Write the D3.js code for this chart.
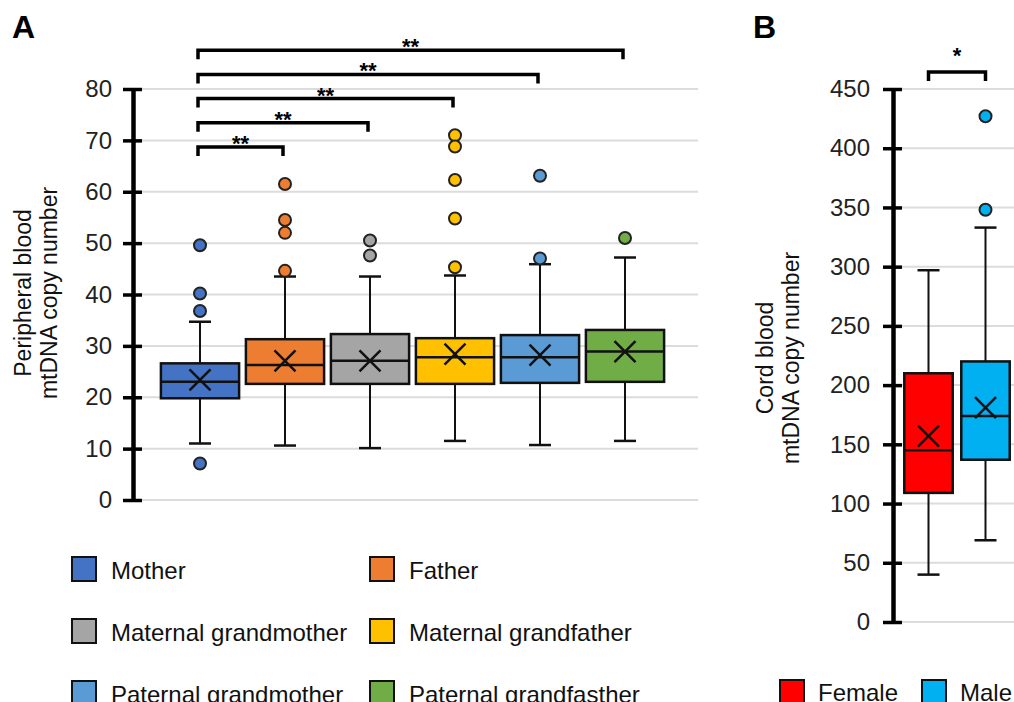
<!DOCTYPE html>
<html>
<head>
<meta charset="utf-8">
<script src="https://cdn.jsdelivr.net/npm/d3@7"></script>
<style>
  body { margin: 0; background: #fff; }
  text { font-family: "Liberation Sans", Arial, sans-serif; }
</style>
</head>
<body>
<div id="chart"></div>
<script>
// Panel A data (peripheral blood)
var groups       = ['Mother', 'Father', 'Maternal grandmother', 'Maternal grandfather', 'Paternal grandmother', 'Paternal grandfasther'];
var group_colors = ['#4472C4', '#ED7D31', '#A5A5A5', '#FFC000', '#5B9BD5', '#70AD47'];
var whisker_low  = [11.0, 10.6, 10.1, 11.5, 10.7, 11.5];
var q1           = [19.8, 22.6, 22.6, 22.6, 22.8, 23.0];
var median       = [23.0, 26.3, 27.1, 27.8, 27.8, 28.9];
var q3           = [26.6, 31.3, 32.3, 31.5, 32.1, 33.1];
var whisker_high = [34.7, 43.5, 43.5, 43.7, 45.9, 47.2];
var mean         = [23.4, 27.1, 27.1, 28.4, 28.2, 28.9];
var outliers     = [
	[49.6, 40.2, 36.8, 7.1],
	[61.5, 54.5, 52.0, 44.6],
	[50.5, 47.6],
	[71.0, 68.8, 62.3, 54.8, 45.3],
	[63.1, 47.0],
	[51.0]
];
var a_ticks      = [0, 10, 20, 30, 40, 50, 60, 70, 80];
// comparisons with Mother
var a_pairs      = [[0, 1], [0, 2], [0, 3], [0, 4], [0, 5]];
var a_signif     = ['**', '**', '**', '**', '**'];

// Panel B data (cord blood)
var sexes        = ['Female', 'Male'];
var sex_colors   = ['#FF0000', '#00B0F0'];
var b_whisker_low  = [40, 69];
var b_q1           = [109, 137];
var b_median       = [145, 174];
var b_q3           = [210, 220];
var b_whisker_high = [297, 333];
var b_mean         = [157, 181];
var b_outliers     = [[], [427, 348]];
var b_ticks      = [0, 50, 100, 150, 200, 250, 300, 350, 400, 450];
var b_signif     = '*';

var width  = 1014;
var height = 702;

var svg = d3.select('#chart')
	.append('svg')
	.attr('width', width)
	.attr('height', height);

// generic box plot panel
function drawPanel(opt) {
	var g = svg.append('g');

	// grid
	g.selectAll('.grid')
		.data(opt.ticks)
		.enter()
		.append('line')
		.attr('x1', opt.axisX)
		.attr('x2', opt.gridEnd)
		.attr('y1', function(d){ return opt.y(d); })
		.attr('y2', function(d){ return opt.y(d); })
		.attr('stroke', '#dcdcdc')
		.attr('stroke-width', 2);

	// axis
	var axis = d3.axisLeft(opt.y)
		.tickValues(opt.ticks)
		.tickSizeInner(9)
		.tickSizeOuter(0)
		.tickPadding(opt.pad);
	var ax = g.append('g')
		.attr('transform', 'translate(' + opt.axisX + ',0)')
		.call(axis);
	ax.select('.domain').attr('stroke', '#000').attr('stroke-width', 4.5);
	ax.selectAll('.tick line').attr('x1', -10).attr('x2', 9).attr('stroke', '#000').attr('stroke-width', 3.5);
	ax.selectAll('.tick text')
		.attr('font-size', 24)
		.attr('fill', '#222')
		.style('font-family', '"Liberation Sans", Arial, sans-serif');

	var n = opt.cats.length;
	var idx = d3.range(n);
	var cx = function(i){ return opt.x(opt.cats[i]) + opt.x.bandwidth() / 2; };
	var bw = opt.x.bandwidth();

	// whiskers
	g.selectAll('.whisker')
		.data(idx)
		.enter()
		.append('line')
		.attr('x1', cx).attr('x2', cx)
		.attr('y1', function(i){ return opt.y(opt.lo[i]); })
		.attr('y2', function(i){ return opt.y(opt.hi[i]); })
		.attr('stroke', '#111')
		.attr('stroke-width', 2);

	['lo', 'hi'].forEach(function(k){
		g.selectAll('.cap-' + k)
			.data(idx)
			.enter()
			.append('line')
			.attr('x1', function(i){ return cx(i) - 11; })
			.attr('x2', function(i){ return cx(i) + 11; })
			.attr('y1', function(i){ return opt.y(opt[k][i]); })
			.attr('y2', function(i){ return opt.y(opt[k][i]); })
			.attr('stroke', '#111')
			.attr('stroke-width', 2.5);
	});

	// boxes
	g.selectAll('.box')
		.data(idx)
		.enter()
		.append('rect')
		.attr('x', function(i){ return opt.x(opt.cats[i]); })
		.attr('y', function(i){ return opt.y(opt.q3[i]); })
		.attr('width', bw)
		.attr('height', function(i){ return opt.y(opt.q1[i]) - opt.y(opt.q3[i]); })
		.attr('fill', function(i){ return opt.colors[i]; })
		.attr('stroke', '#111')
		.attr('stroke-width', 2.5);

	// medians
	g.selectAll('.median')
		.data(idx)
		.enter()
		.append('line')
		.attr('x1', function(i){ return opt.x(opt.cats[i]); })
		.attr('x2', function(i){ return opt.x(opt.cats[i]) + bw; })
		.attr('y1', function(i){ return opt.y(opt.med[i]); })
		.attr('y2', function(i){ return opt.y(opt.med[i]); })
		.attr('stroke', '#111')
		.attr('stroke-width', 2.5);

	// means (X)
	g.selectAll('.mean')
		.data(idx)
		.enter()
		.append('path')
		.attr('d', function(i){
			var x = cx(i), y = opt.y(opt.mean[i]), s = 10.5;
			return 'M' + (x - s) + ',' + (y - s) + 'L' + (x + s) + ',' + (y + s) +
				'M' + (x - s) + ',' + (y + s) + 'L' + (x + s) + ',' + (y - s);
		})
		.attr('stroke', '#111')
		.attr('stroke-width', 2.5)
		.attr('fill', 'none');

	// outliers
	var pts = [];
	idx.forEach(function(i){
		opt.out[i].forEach(function(v){ pts.push({ i: i, v: v }); });
	});
	g.selectAll('.outlier')
		.data(pts)
		.enter()
		.append('circle')
		.attr('cx', function(d){ return cx(d.i); })
		.attr('cy', function(d){ return opt.y(d.v); })
		.attr('r', 6)
		.attr('fill', function(d){ return opt.colors[d.i]; })
		.attr('stroke', '#222')
		.attr('stroke-width', 2);

	// y label
	var lab = g.append('text')
		.attr('transform', 'translate(' + opt.labelX + ',' + opt.labelY + ') rotate(-90)')
		.attr('text-anchor', 'middle')
		.attr('font-size', 23)
		.attr('fill', '#111');
	lab.append('tspan').attr('x', 0).attr('dy', 0).text(opt.label[0]);
	lab.append('tspan').attr('x', 0).attr('dy', 26).text(opt.label[1]);

	return cx;
}

function bracket(x1, x2, y, txt, gap) {
	svg.append('path')
		.attr('d', 'M' + x1 + ',' + (y + 9) + 'V' + y + 'H' + x2 + 'V' + (y + 9))
		.attr('fill', 'none')
		.attr('stroke', '#000')
		.attr('stroke-width', 3.5);
	svg.append('text')
		.attr('x', (x1 + x2) / 2)
		.attr('y', y - gap)
		.attr('text-anchor', 'middle')
		.attr('font-size', 22)
		.attr('font-weight', 'bold')
		.text(txt);
}

// ---------- Panel A ----------
var a_y = d3.scaleLinear().domain([0, 80]).range([500, 89]);
var a_x = d3.scaleBand()
	.domain(groups)
	.range([157.5, 667.5])
	.paddingInner(0.08)
	.paddingOuter(0.04);

var a_cx = drawPanel({
	cats: groups, colors: group_colors, x: a_x, y: a_y, ticks: a_ticks,
	lo: whisker_low, hi: whisker_high, q1: q1, q3: q3, med: median, mean: mean, out: outliers,
	axisX: 133, gridEnd: 698, pad: 12,
	label: ['Peripheral blood', 'mtDNA copy number'], labelX: 31, labelY: 293
});

a_pairs.forEach(function(p, k){
	bracket(a_cx(p[0]) - 2, a_cx(p[1]) - 2, 147 - k * 24.2, a_signif[k], -4);
});

// ---------- Panel B ----------
var b_y = d3.scaleLinear().domain([0, 450]).range([622, 89]);
var b_x = d3.scaleBand()
	.domain(sexes)
	.range([900, 1014])
	.paddingInner(0.15)
	.paddingOuter(0.075);

var b_cx = drawPanel({
	cats: sexes, colors: sex_colors, x: b_x, y: b_y, ticks: b_ticks,
	lo: b_whisker_low, hi: b_whisker_high, q1: b_q1, q3: b_q3, med: b_median, mean: b_mean, out: b_outliers,
	axisX: 893, gridEnd: 1014, pad: 14,
	label: ['Cord blood', 'mtDNA copy number'], labelX: 773, labelY: 358
});

bracket(b_cx(0), b_cx(1), 72, b_signif, 9.5);

// panel letters
svg.append('text').attr('x', 12).attr('y', 38).attr('font-size', 32).attr('font-weight', 'bold').text('A');
svg.append('text').attr('x', 753).attr('y', 38).attr('font-size', 32).attr('font-weight', 'bold').text('B');

// ---------- Legends ----------
var a_leg = svg.selectAll('.a-leg')
	.data(groups)
	.enter()
	.append('g')
	.attr('transform', function(d, i){
		return 'translate(' + (i % 2 === 0 ? 72 : 370) + ',' + (557 + Math.floor(i / 2) * 62) + ')';
	});
a_leg.append('rect')
	.attr('width', 24).attr('height', 24)
	.attr('fill', function(d, i){ return group_colors[i]; })
	.attr('stroke', '#111').attr('stroke-width', 2);
a_leg.append('text')
	.attr('x', 39).attr('y', 22)
	.attr('font-size', 24)
	.attr('fill', '#111')
	.text(function(d){ return d; });

var b_leg = svg.selectAll('.b-leg')
	.data(sexes)
	.enter()
	.append('g')
	.attr('transform', function(d, i){ return 'translate(' + (780 + i * 142) + ',680)'; });
b_leg.append('rect')
	.attr('width', 24).attr('height', 24)
	.attr('fill', function(d, i){ return sex_colors[i]; })
	.attr('stroke', '#111').attr('stroke-width', 2);
b_leg.append('text')
	.attr('x', 38).attr('y', 21)
	.attr('font-size', 24)
	.attr('fill', '#111')
	.text(function(d){ return d; });
</script>
</body>
</html>
